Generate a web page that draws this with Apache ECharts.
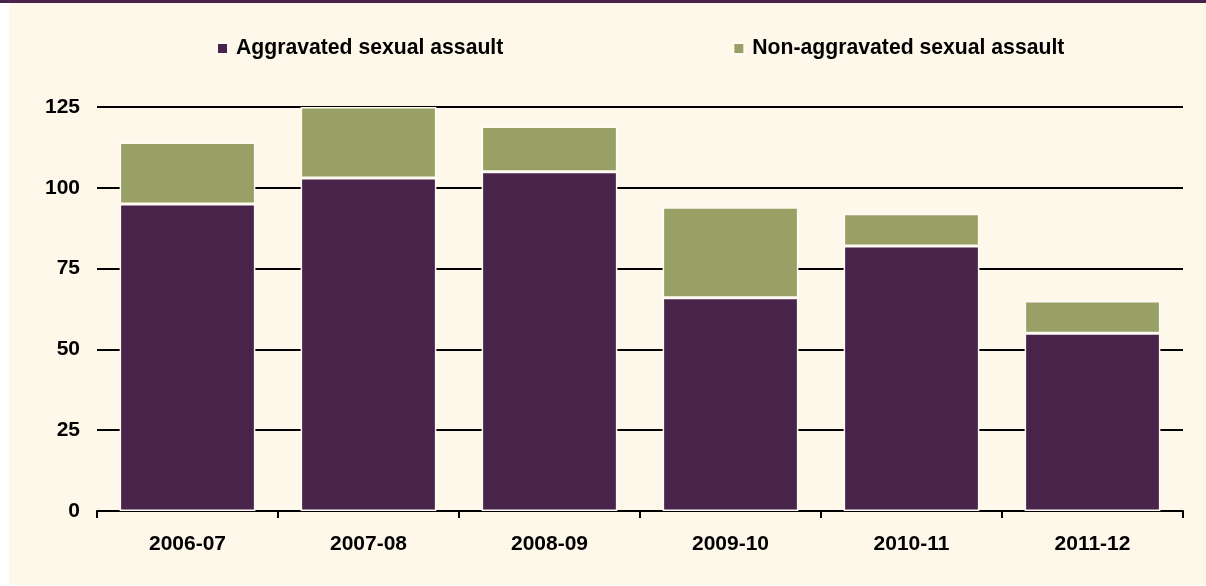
<!DOCTYPE html>
<html>
<head>
<meta charset="utf-8">
<script src="https://cdn.jsdelivr.net/npm/echarts@6/dist/echarts.min.js"></script>
<style>
html,body{margin:0;padding:0;background:#ffffff;}
#chart{width:1206px;height:586px;}
</style>
</head>
<body>
<div id="chart"></div>
<script>
var categories = ['2006-07', '2007-08', '2008-09', '2009-10', '2010-11', '2011-12'];
var aggravated = [95, 103, 105, 66, 82, 55];
var nonAggravated = [19, 22, 14, 28, 10, 10];
var seriesNames = ['Aggravated sexual assault', 'Non-aggravated sexual assault'];
var yTicks = [0, 25, 50, 75, 100, 125];

var FONT = '"Liberation Sans", Arial, Helvetica, sans-serif';
var chart = echarts.init(document.getElementById('chart'), null, {renderer: 'canvas'});
chart.setOption({
  backgroundColor: '#ffffff',
  animation: false,
  graphic: [
    {type: 'rect', z: -10, shape: {x: 9, y: 3, width: 1197, height: 582}, style: {fill: '#fef8eb'}},
    {type: 'rect', z: -10, shape: {x: 0, y: 0, width: 1206, height: 3}, style: {fill: '#48234a'}}
  ],
  legend: {
    data: seriesNames,
    left: 211,
    top: 33,
    itemGap: 229,
    itemWidth: 11,
    itemHeight: 11,
    icon: 'rect',
    textStyle: {fontFamily: FONT, fontSize: 21.2, fontWeight: 'bold', color: '#000', padding: [0, 0, 0, 3]}
  },
  grid: {left: 97, right: 23, top: 107, bottom: 75, containLabel: false},
  xAxis: {
    type: 'category',
    data: categories,
    axisLine: {lineStyle: {color: '#000', width: 2}},
    axisTick: {show: true, length: 7, lineStyle: {color: '#000', width: 2}},
    axisLabel: {fontFamily: FONT, fontSize: 21, fontWeight: 'bold', color: '#000', margin: 23}
  },
  yAxis: {
    type: 'value',
    min: yTicks[0],
    max: yTicks[yTicks.length - 1],
    interval: 25,
    axisLine: {show: false},
    axisTick: {show: false},
    splitLine: {lineStyle: {color: '#000', width: 2}},
    axisLabel: {fontFamily: FONT, fontSize: 21, fontWeight: 'bold', color: '#000', margin: 17}
  },
  series: [
    {
      name: seriesNames[0], type: 'bar', stack: 'total', data: aggravated, barWidth: '75%',
      itemStyle: {color: '#48234a', borderColor: '#fffaf2', borderWidth: 1.5}
    },
    {
      name: seriesNames[1], type: 'bar', stack: 'total', data: nonAggravated, barWidth: '75%',
      itemStyle: {color: '#98a066', borderColor: '#fffaf2', borderWidth: 1.5}
    }
  ]
});
</script>
</body>
</html>
